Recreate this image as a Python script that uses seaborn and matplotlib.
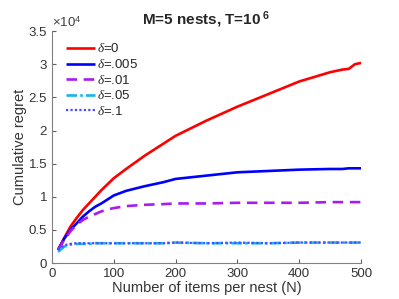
import matplotlib
matplotlib.use("Agg")
import matplotlib.pyplot as plt
import seaborn as sns
import pandas as pd
import numpy as np

N = [10, 20, 30, 40, 50, 60, 70, 80, 90, 100, 120, 150, 180, 200, 250, 300, 350, 400, 450, 470, 480, 490, 500]
r_0 = [0.20, 0.38, 0.55, 0.68, 0.80, 0.90, 1.00, 1.10, 1.19, 1.28, 1.42, 1.62, 1.80, 1.92, 2.15, 2.36, 2.55, 2.74, 2.88, 2.92, 2.93, 3.00, 3.02]
r_005 = [0.20, 0.37, 0.50, 0.60, 0.70, 0.78, 0.85, 0.90, 0.96, 1.02, 1.09, 1.16, 1.22, 1.27, 1.32, 1.37, 1.39, 1.41, 1.42, 1.42, 1.43, 1.43, 1.43]
r_01 = [0.20, 0.35, 0.48, 0.58, 0.65, 0.70, 0.74, 0.78, 0.81, 0.83, 0.86, 0.88, 0.89, 0.90, 0.90, 0.91, 0.91, 0.91, 0.92, 0.92, 0.92, 0.92, 0.92]
r_05 = [0.17, 0.25, 0.28, 0.29, 0.29, 0.29, 0.30, 0.30, 0.30, 0.30, 0.30, 0.30, 0.30, 0.31, 0.30, 0.30, 0.30, 0.31, 0.31, 0.31, 0.31, 0.31, 0.31]
r_1 = [0.20, 0.27, 0.29, 0.30, 0.30, 0.30, 0.30, 0.30, 0.30, 0.30, 0.30, 0.30, 0.30, 0.31, 0.30, 0.31, 0.30, 0.31, 0.31, 0.31, 0.31, 0.31, 0.31]
labels = ["$\\delta$=0", "$\\delta$=.005", "$\\delta$=.01", "$\\delta$=.05", "$\\delta$=.1"]
series = [r_0, r_005, r_01, r_05, r_1]

rows = []
for lab, vals in zip(labels, series):
    for n, v in zip(N, vals):
        rows.append({"N": n, "regret": v * 1e4, "delta": lab})
df = pd.DataFrame(rows)

sns.set_style("white")
plt.rcParams['font.family'] = ['Liberation Sans', 'DejaVu Sans']
plt.rcParams['mathtext.fontset'] = 'custom'
plt.rcParams['mathtext.it'] = 'Liberation Serif:italic'
plt.rcParams['mathtext.rm'] = 'Liberation Sans'
plt.rcParams['mathtext.bf'] = 'Liberation Sans:bold'

fig = plt.figure(figsize=(3.99, 2.99), dpi=100)
ax = fig.add_axes([0.130, 0.120, 0.775, 0.776])

colors = ["#FF0000", "#0000FF", "#A81CF0", "#18B4F0", "#4A4AFF"]
styles = [(0, ()), (0, ()), (0, (4, 2.5)), (0, (4, 1.2, 1, 1.2)), (0, (1, 1))]
widths = [1.9, 1.9, 1.9, 1.9, 1.6]
for lab, c, ls, lw in zip(labels, colors, styles, widths):
    sub = df[df["delta"] == lab]
    sns.lineplot(data=sub, x="N", y="regret", color=c, linestyle=ls, linewidth=lw, label=lab, ax=ax)

ax.set_xlim(0, 500)
ax.set_ylim(0, 3.5e4)
ax.set_xticks([0, 100, 200, 300, 400, 500])
ax.set_yticks(np.arange(0, 3.51e4, 0.5e4))
ax.set_yticklabels(["0", "0.5", "1", "1.5", "2", "2.5", "3", "3.5"])
ax.text(0.0, 1.005, "$\\times10^4$", transform=ax.transAxes, fontsize=9.5, color="#404040", va="bottom", ha="left")
for s in ["top", "right"]:
    ax.spines[s].set_visible(False)
for s in ["left", "bottom"]:
    ax.spines[s].set_color("#808080")
    ax.spines[s].set_linewidth(0.8)
ax.tick_params(direction="in", length=3, width=0.8, color="#606060", labelsize=9.5, labelcolor="#333333", left=True, bottom=True)
ax.set_xlabel("Number of items per nest (N)", fontsize=10.5, color="#333333", labelpad=1)
ax.set_ylabel("Cumulative regret", fontsize=10.5, color="#333333", labelpad=1)
ax.set_title("M=5 nests, T=$\\mathbf{10^{\\ 6}}$", fontsize=11, fontweight="bold", pad=5)

leg = ax.legend(loc="upper left", frameon=False, fontsize=9.5, handlelength=2.2, handletextpad=0.15,
                labelspacing=0.2, borderaxespad=0.2, bbox_to_anchor=(0.02, 0.985))
fig.savefig("out.png", dpi=100)
